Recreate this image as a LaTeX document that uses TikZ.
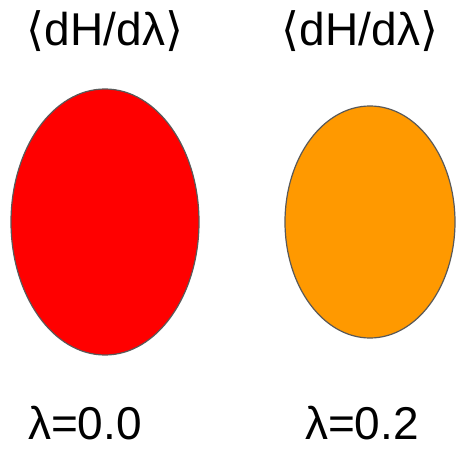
\documentclass[tikz,border=0pt]{standalone}
\usepackage{fontspec}
\setmainfont{Liberation Sans}
\newfontfamily\brfont{DejaVu Sans}
\definecolor{redfill}{HTML}{FF0000}
\definecolor{orangefill}{HTML}{FF9900}
\definecolor{edge}{HTML}{595959}
\begin{document}
\begin{tikzpicture}[x=1pt,y=-1pt,
  lbl/.style={font=\fontsize{46}{48}\selectfont,inner sep=0pt,anchor=base}]
\useasboundingbox (0,0) rectangle (456,449);
\draw[fill=redfill,draw=edge,line width=1.2pt] (105,222) ellipse [x radius=94,y radius=133];
\draw[fill=orangefill,draw=edge,line width=1.2pt] (370,222) ellipse [x radius=85,y radius=116];
\node[lbl] (t1) at (105,46) {{\brfont⟨}dH/dλ{\brfont⟩}};
\node[lbl] (t2) at (360,46) {{\brfont⟨}dH/dλ{\brfont⟩}};
\node[lbl] (b1) at (85,440) {λ=0.0};
\node[lbl] (b2) at (362,440) {λ=0.2};
\end{tikzpicture}
\end{document}
